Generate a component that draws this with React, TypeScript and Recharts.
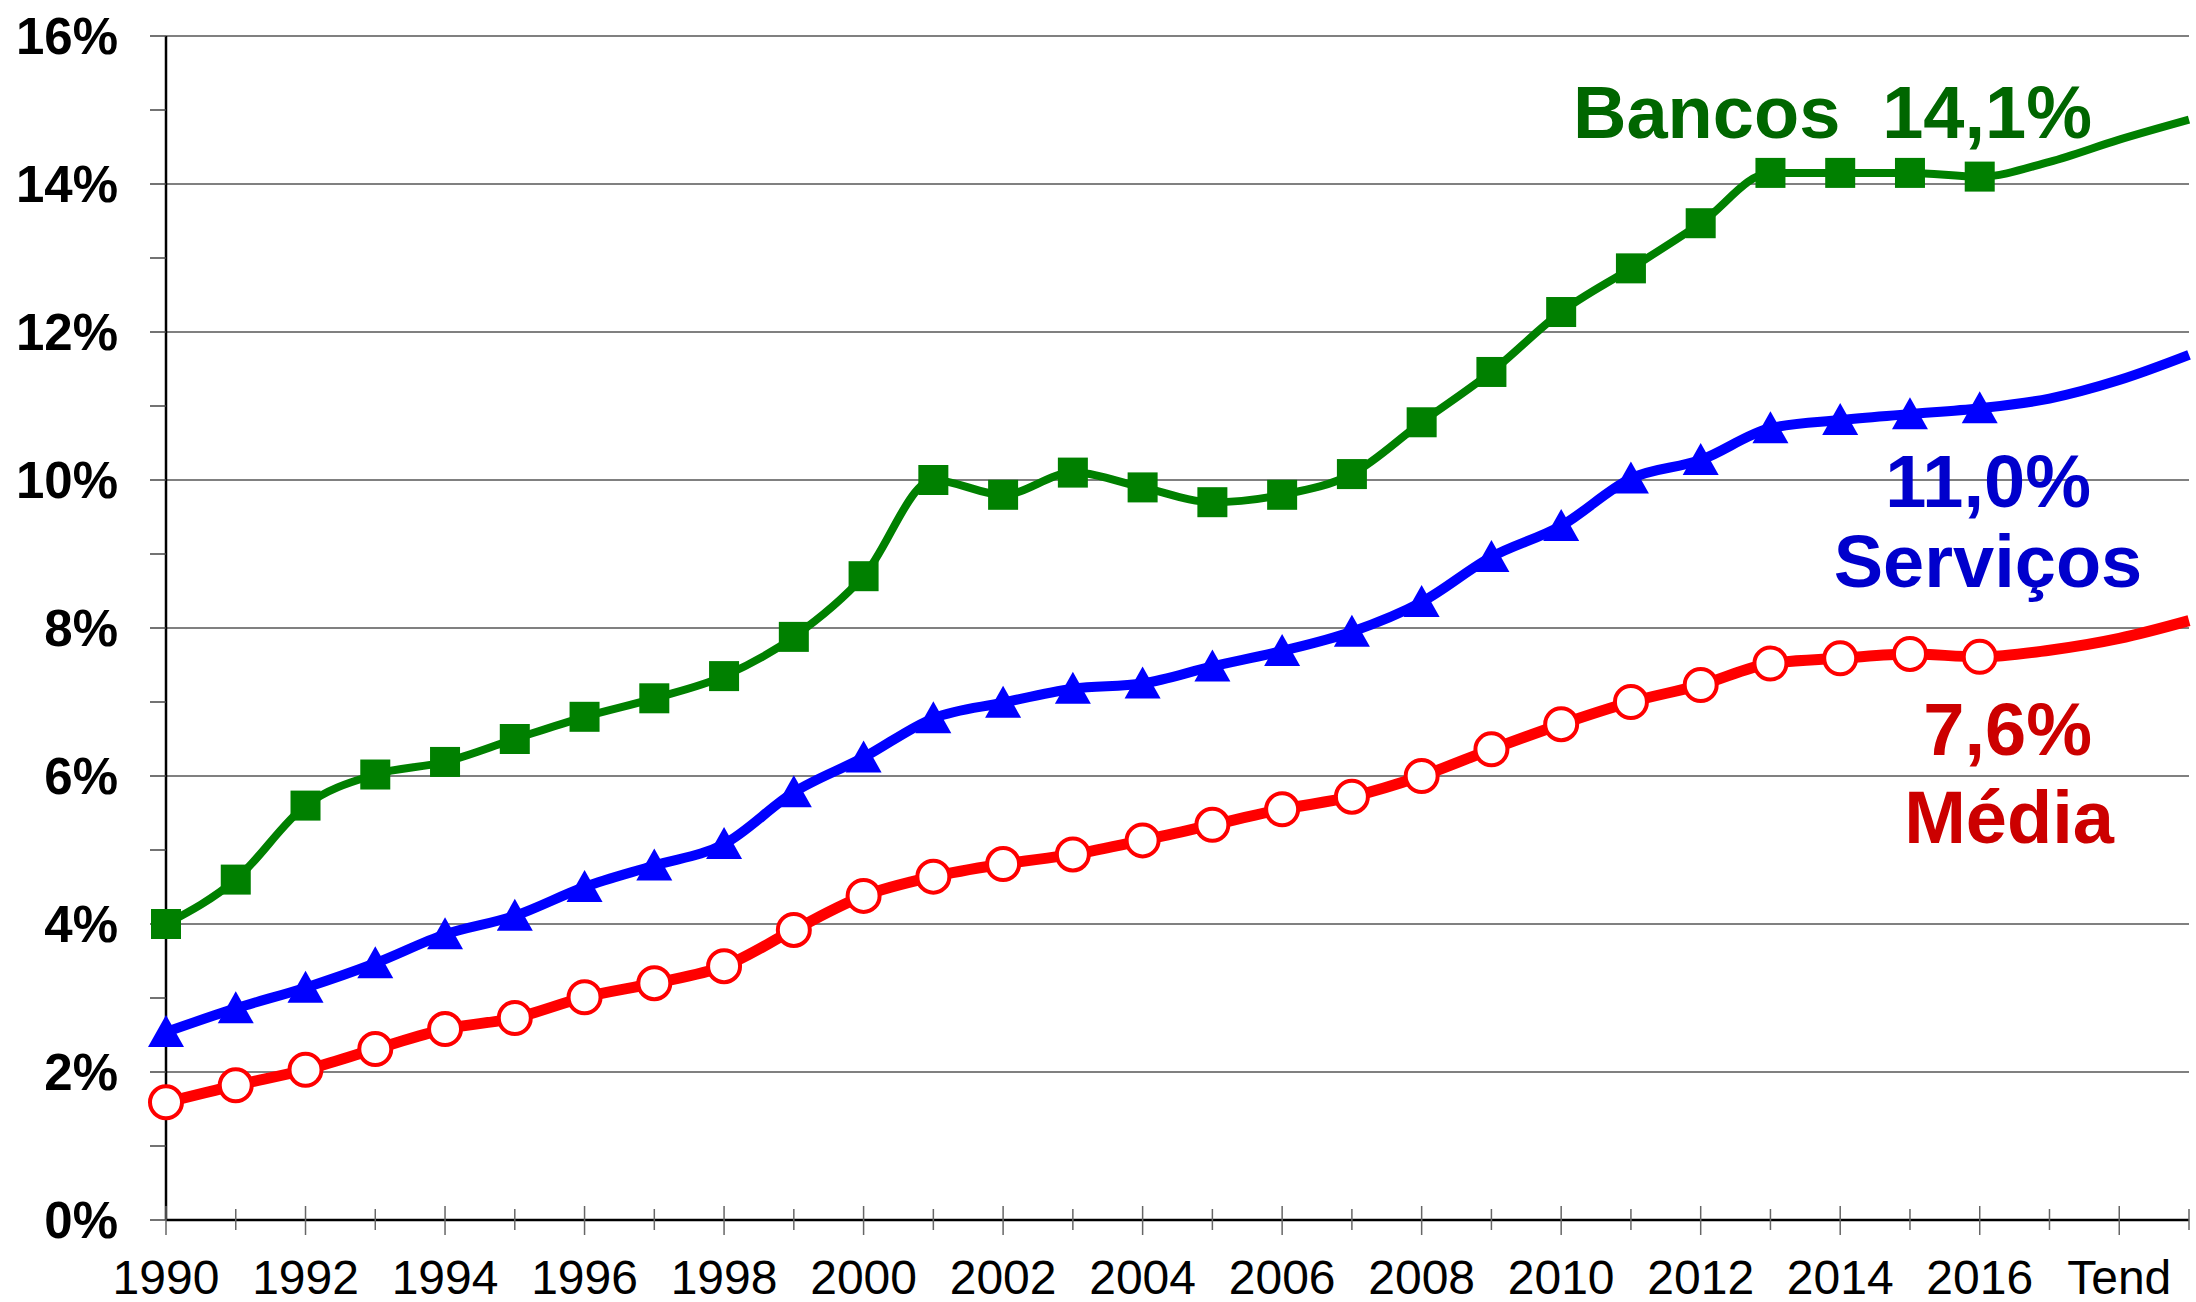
import React from "react";
import { LineChart, Line, XAxis, YAxis, CartesianGrid } from "recharts";

// anos com dados reais até 2016; 2017-2019 = tendência (sem marcadores)
const YEARS = [
  1990, 1991, 1992, 1993, 1994, 1995, 1996, 1997, 1998, 1999,
  2000, 2001, 2002, 2003, 2004, 2005, 2006, 2007, 2008, 2009,
  2010, 2011, 2012, 2013, 2014, 2015, 2016, 2017, 2018, 2019,
];
const LAST_REAL = 2016;

const BANCOS = [
  4.0, 4.6, 5.6, 6.02, 6.19, 6.5, 6.8, 7.05, 7.35, 7.88,
  8.7, 10.0, 9.8, 10.1, 9.9, 9.7, 9.8, 10.08, 10.78, 11.46,
  12.27, 12.86, 13.47, 14.15, 14.15, 14.15, 14.1, 14.3, 14.6, 14.87,
];
const SERVICOS = [
  2.54, 2.86, 3.14, 3.47, 3.86, 4.11, 4.5, 4.79, 5.08, 5.78,
  6.25, 6.78, 6.99, 7.18, 7.25, 7.48, 7.69, 7.95, 8.35, 8.96,
  9.38, 10.02, 10.27, 10.7, 10.81, 10.89, 10.97, 11.1, 11.35, 11.69,
];
const MEDIA = [
  1.59, 1.82, 2.03, 2.31, 2.58, 2.73, 3.01, 3.2, 3.43, 3.92,
  4.38, 4.64, 4.81, 4.94, 5.13, 5.34, 5.55, 5.72, 6.0, 6.36,
  6.7, 7.0, 7.23, 7.52, 7.59, 7.65, 7.61, 7.7, 7.86, 8.1,
];

const Y_TICKS = [0, 1, 2, 3, 4, 5, 6, 7, 8, 9, 10, 11, 12, 13, 14, 15, 16];
const Y_GRID = [2, 4, 6, 8, 10, 12, 14, 16];
const X_LABELS: Record<number, string> = {
  1990: "1990", 1992: "1992", 1994: "1994", 1996: "1996", 1998: "1998",
  2000: "2000", 2002: "2002", 2004: "2004", 2006: "2006", 2008: "2008",
  2010: "2010", 2012: "2012", 2014: "2014", 2016: "2016", 2018: "Tend",
};

const FONT = '"Liberation Sans", Arial, sans-serif';

const rows = YEARS.map((year, i) => ({
  year,
  bancos: BANCOS[i],
  servicos: SERVICOS[i],
  media: MEDIA[i],
}));

const SquareDot = (p: any) => {
  if (p.payload.year > LAST_REAL) return <g key={`sq${p.index}`} />;
  return <rect key={`sq${p.index}`} x={p.cx - 15} y={p.cy - 15} width={30} height={30} fill="#008000" />;
};

const TriangleDot = (p: any) => {
  if (p.payload.year > LAST_REAL) return <g key={`tr${p.index}`} />;
  const { cx, cy } = p;
  return (
    <polygon
      key={`tr${p.index}`}
      points={`${cx},${cy - 17} ${cx + 18},${cy + 15} ${cx - 18},${cy + 15}`}
      fill="#0000ff"
    />
  );
};

const CircleDot = (p: any) => {
  if (p.payload.year > LAST_REAL) return <g key={`ci${p.index}`} />;
  return <circle key={`ci${p.index}`} cx={p.cx} cy={p.cy} r={16} fill="#fff" stroke="#ff0000" strokeWidth={4} />;
};

const YearTick = ({ x, y, payload }: any) => {
  const even = payload.value % 2 === 0;
  const label = X_LABELS[payload.value];
  return (
    <g>
      <line x1={x} x2={x} y1={y - (even ? 14 : 11)} y2={y + (even ? 15 : 10)} stroke="#666" strokeWidth={1.5} />
      {label && (
        <text x={x} y={y + 74} textAnchor="middle" fontFamily={FONT} fontSize={48} fill="#000">
          {label}
        </text>
      )}
    </g>
  );
};

const PctTick = ({ x, y, payload }: any) => {
  if (payload.value % 2 !== 0) return <g />;
  return (
    <text x={x} y={y} dy="0.36em" textAnchor="end" fontFamily={FONT} fontWeight="bold" fontSize={51} fill="#000">
      {`${payload.value}%`}
    </text>
  );
};

function Notes() {
  const t = { fontFamily: FONT, fontWeight: "bold" as const, fontSize: 74 };
  return (
    <svg width={2196} height={1302} style={{ position: "absolute", left: 0, top: 0, pointerEvents: "none" }}>
      <text x={1573} y={138} fill="#006600" {...t}>Bancos</text>
      <text x={2092} y={138} textAnchor="end" fill="#006600" {...t}>14,1%</text>
      <text x={2091} y={507} textAnchor="end" fill="#0000cc" {...t}>11,0%</text>
      <text x={1988} y={587} textAnchor="middle" fill="#0000cc" {...t}>Serviços</text>
      <text x={2092} y={755} textAnchor="end" fill="#cc0000" {...t}>7,6%</text>
      <text x={2009} y={843} textAnchor="middle" fill="#cc0000" {...t}>Média</text>
    </svg>
  );
}

export default function App() {
  return (
    <div style={{ position: "absolute", left: 0, top: 0, width: 2196, height: 1302, background: "#fff", overflow: "hidden" }}>
      <LineChart width={2196} height={1302} data={rows} margin={{ top: 36, right: 7, bottom: 0, left: 26 }}>
        <CartesianGrid vertical={false} horizontalValues={Y_GRID} stroke="#808080" strokeWidth={2} />
        <XAxis
          dataKey="year"
          type="number"
          domain={[1990, 2019]}
          ticks={YEARS}
          interval={0}
          height={82}
          tickSize={0}
          tickMargin={0}
          tickLine={false}
          tick={<YearTick />}
          axisLine={{ stroke: "#000", strokeWidth: 2.5 }}
        />
        <YAxis
          type="number"
          domain={[0, 16]}
          ticks={Y_TICKS}
          interval={0}
          width={140}
          tickSize={16}
          tickMargin={32}
          tickLine={{ stroke: "#444", strokeWidth: 1.5 }}
          tick={<PctTick />}
          axisLine={{ stroke: "#000", strokeWidth: 2.5 }}
        />
        <Line type="monotone" dataKey="bancos" stroke="#008000" strokeWidth={8} dot={SquareDot} activeDot={false} isAnimationActive={false} />
        <Line type="monotone" dataKey="servicos" stroke="#0000ff" strokeWidth={10} dot={TriangleDot} activeDot={false} isAnimationActive={false} />
        <Line type="monotone" dataKey="media" stroke="#ff0000" strokeWidth={11} dot={CircleDot} activeDot={false} isAnimationActive={false} />
      </LineChart>
      <Notes />
    </div>
  );
}
